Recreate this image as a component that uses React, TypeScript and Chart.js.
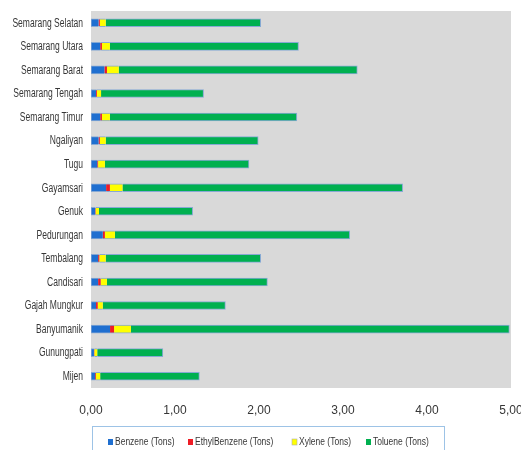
import React, { useEffect, useRef } from "react";
import { Chart, registerables } from "chart.js";

Chart.register(...registerables);

const categories = [
  "Semarang Selatan",
  "Semarang Utara",
  "Semarang Barat",
  "Semarang Tengah",
  "Semarang Timur",
  "Ngaliyan",
  "Tugu",
  "Gayamsari",
  "Genuk",
  "Pedurungan",
  "Tembalang",
  "Candisari",
  "Gajah Mungkur",
  "Banyumanik",
  "Gunungpati",
  "Mijen",
];

const benzene = [0.09, 0.11, 0.16, 0.06, 0.11, 0.09, 0.075, 0.18, 0.05, 0.14, 0.085, 0.085, 0.06, 0.227, 0.035, 0.05];
const ethylbenzene = [0.015, 0.02, 0.03, 0.01, 0.02, 0.015, 0.01, 0.045, 0.005, 0.025, 0.015, 0.03, 0.02, 0.048, 0.005, 0.01];
const xylene = [0.07, 0.095, 0.14, 0.05, 0.095, 0.07, 0.08, 0.15, 0.04, 0.12, 0.075, 0.075, 0.06, 0.2, 0.035, 0.05];
const toluene = [1.845, 2.245, 2.84, 1.22, 2.225, 1.815, 1.715, 3.335, 1.115, 2.795, 1.845, 1.91, 1.46, 4.505, 0.78, 1.18];

const xTicks = [0, 1, 2, 3, 4, 5];

const FONT = "'Liberation Sans', Arial, sans-serif";
const TEXT = "#363636";

const bgPlugin = {
  id: "bgPlugin",
  beforeDraw(chart: any) {
    const { ctx, chartArea } = chart;
    ctx.save();
    ctx.fillStyle = "#ffffff";
    ctx.fillRect(0, 0, chart.width, chart.height);
    ctx.fillStyle = "#d9d9d9";
    ctx.fillRect(chartArea.left, chartArea.top, chartArea.right - chartArea.left, chartArea.bottom - chartArea.top);
    ctx.restore();
  },
  afterDraw(chart: any) {
    const { ctx } = chart;
    const yScale = chart.scales.y;
    ctx.save();
    // condensed category labels (y axis)
    ctx.font = "12px " + FONT;
    ctx.fillStyle = TEXT;
    ctx.textAlign = "right";
    ctx.textBaseline = "middle";
    (chart.data.labels as string[]).forEach((lab: string, i: number) => {
      const y = yScale.getPixelForValue(i);
      ctx.save();
      ctx.translate(yScale.right - 8, y + 0.5);
      ctx.scale(0.71, 1);
      ctx.fillText(lab, 0, 0);
      ctx.restore();
    });

    // legend box
    ctx.strokeStyle = "#9dc3e6";
    ctx.lineWidth = 1;
    ctx.strokeRect(92.5, 426.5, 352, 30);
    const starts = [108, 188, 292, 366];
    ctx.font = "10px " + FONT;
    ctx.textAlign = "left";
    ctx.textBaseline = "middle";
    chart.data.datasets.forEach((ds: any, i: number) => {
      const x = starts[i];
      ctx.fillStyle = ds.backgroundColor;
      ctx.fillRect(x, 439, 5, 6);
      if (i === 2) {
        ctx.strokeStyle = "#b0b0b0";
        ctx.lineWidth = 0.6;
        ctx.strokeRect(x, 439, 5, 6);
      }
      ctx.save();
      ctx.translate(x + 7, 442);
      ctx.scale(0.85, 1);
      ctx.fillStyle = TEXT;
      ctx.fillText(ds.label, 0, 0);
      ctx.restore();
    });
    ctx.restore();
  },
};

export default function App() {
  const ref = useRef<HTMLCanvasElement>(null);
  useEffect(() => {
    if (!ref.current) return;
    const mk = (label: string, data: number[], color: string, idx: number) => ({
      label,
      data,
      backgroundColor: color,
      borderColor: "rgba(120,160,210,0.85)",
      borderWidth: {
        top: 1,
        bottom: 1,
        left: idx === 0 ? 1 : 0,
        right: idx === 3 ? 1 : 0,
      },
      borderSkipped: false,
      barThickness: 8,
    });
    const chart = new Chart(ref.current, {
      type: "bar",
      data: {
        labels: categories,
        datasets: [
          mk("Benzene (Tons)", benzene, "#1f6fd0", 0),
          mk("EthylBenzene (Tons)", ethylbenzene, "#ee1c25", 1),
          mk("Xylene (Tons)", xylene, "#ffff00", 2),
          mk("Toluene (Tons)", toluene, "#00b050", 3),
        ],
      },
      options: {
        indexAxis: "y",
        responsive: false,
        animation: false,
        layout: { padding: { left: 0, right: 10, top: 11, bottom: 32 } },
        plugins: { legend: { display: false }, tooltip: { enabled: false } },
        scales: {
          x: {
            stacked: true,
            min: 0,
            max: 5,
            afterBuildTicks(scale: any) {
              scale.ticks = xTicks.map((v) => ({ value: v }));
            },
            afterFit(scale: any) {
              scale.height = 30;
              scale.paddingLeft = 0;
              scale.paddingRight = 0;
            },
            grid: { display: false, drawTicks: false },
            border: { display: false },
            ticks: {
              padding: 15,
              maxRotation: 0,
              autoSkip: false,
              color: TEXT,
              font: { family: FONT, size: 12 },
              callback: (v: any) => Number(v).toFixed(2).replace(".", ","),
            },
          },
          y: {
            stacked: true,
            afterFit(scale: any) {
              scale.width = 91;
            },
            grid: { display: false, drawTicks: false },
            border: { display: false },
            ticks: { display: false },
          },
        },
      },
      plugins: [bgPlugin],
    } as any);
    return () => chart.destroy();
  }, []);
  return (
    <div style={{ position: "absolute", left: 0, top: 0, width: 521, height: 450 }}>
      <canvas ref={ref} width={521} height={450} style={{ width: 521, height: 450 }} />
    </div>
  );
}
